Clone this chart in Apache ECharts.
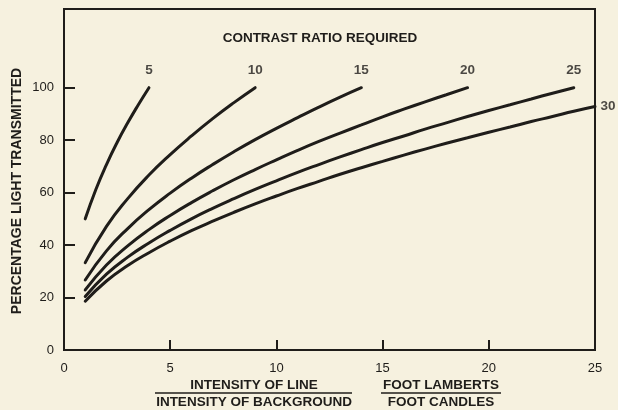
<!DOCTYPE html>
<html>
<head>
<meta charset="utf-8">
<script src="https://cdn.jsdelivr.net/npm/echarts@6/dist/echarts.min.js"></script>
<style>
  html, body { margin: 0; padding: 0; background: #f6f1df; }
  #chart { width: 618px; height: 410px; }
</style>
</head>
<body>
<div id="chart"></div>
<script>
// Contrast ratios shown as curve labels
const ratios = ['5', '10', '15', '20', '25', '30'];

// Intensity ratio (x) sampled for each curve
const x5  = [1, 1.5, 2, 2.5, 3, 3.5, 4];
const x10 = [1, 2, 3, 4, 5, 6, 7, 8, 9];
const x15 = [1, 2, 3, 4, 5, 6, 7, 8, 9, 10, 11, 12, 13, 14];
const x20 = [1, 2, 3, 4, 5, 6, 7, 8, 9, 10, 11, 12, 13, 14, 15, 16, 17, 18, 19];
const x25 = [1, 2, 3, 4, 5, 6, 7, 8, 9, 10, 11, 12, 13, 14, 15, 16, 17, 18, 19, 20, 21, 22, 23, 24];
const x30 = [1, 2, 3, 4, 5, 6, 7, 8, 9, 10, 11, 12, 13, 14, 15, 16, 17, 18, 19, 20, 21, 22, 23, 24, 25];

// Percentage light transmitted for each contrast ratio
const y5  = [50, 61.2, 70.7, 79.1, 86.6, 93.5, 100];
const y10 = [33.3, 47.1, 57.7, 66.7, 74.5, 81.6, 88.2, 94.3, 100];
const y15 = [26.7, 37.8, 46.3, 53.5, 59.8, 65.5, 70.7, 75.6, 80.2, 84.5, 88.6, 92.6, 96.4, 100];
const y20 = [22.9, 32.4, 39.7, 45.9, 51.3, 56.2, 60.7, 64.9, 68.8, 72.5, 76.1, 79.5, 82.7, 85.8, 88.9, 91.8, 94.6, 97.3, 100];
const y25 = [20.4, 28.9, 35.4, 40.8, 45.6, 50, 54, 57.7, 61.2, 64.5, 67.7, 70.7, 73.6, 76.4, 79.1, 81.6, 84.2, 86.6, 89, 91.3, 93.5, 95.7, 97.9, 100];
const y30 = [18.6, 26.3, 32.2, 37.1, 41.5, 45.5, 49.1, 52.5, 55.7, 58.7, 61.6, 64.3, 67, 69.5, 71.9, 74.3, 76.6, 78.8, 80.9, 83, 85, 87.1, 89, 91, 92.8];

// Axis ticks
const xTicks = [0, 5, 10, 15, 20, 25];
const yTicks = [0, 20, 40, 60, 80, 100];

const xs = [x5, x10, x15, x20, x25, x30];
const ys = [y5, y10, y15, y20, y25, y30];
const curves = xs.map((xv, i) => xv.map((x, j) => [x, ys[i][j]]));

const ink = '#1f1d1a';
const font = '"Liberation Sans", Arial, sans-serif';

const chart = echarts.init(document.getElementById('chart'));

const lineSeries = curves.map((d, i) => ({
  type: 'line',
  name: ratios[i],
  data: d,
  smooth: 0.5,
  symbol: 'none',
  lineStyle: { color: ink, width: 3, cap: 'round' },
  silent: true,
  z: 3
}));

// Ratio labels anchored at the end of each curve
const labelSeries = {
  type: 'scatter',
  symbolSize: 1,
  itemStyle: { color: 'rgba(0,0,0,0)' },
  silent: true,
  z: 4,
  data: curves.map((d, i) => {
    const end = d[d.length - 1];
    const last = i === curves.length - 1;
    return {
      value: end,
      label: {
        show: true,
        formatter: ratios[i],
        position: last ? 'right' : 'top',
        distance: last ? 5 : 10,
        color: ink,
        fontFamily: font,
        fontWeight: 'bold',
        fontSize: 13.5
      }
    };
  })
};

chart.setOption({
  backgroundColor: '#f6f1df',
  animation: false,
  grid: {
    left: 64, right: 23, top: 9, bottom: 60,
    show: true, borderColor: ink, borderWidth: 2, backgroundColor: 'transparent'
  },
  xAxis: {
    type: 'value', min: 0, max: 25, interval: 5,
    axisLine: { show: true, lineStyle: { color: ink, width: 2 } },
    axisTick: { show: true, inside: true, length: 10, lineStyle: { color: ink, width: 2 }, customValues: [5, 10, 15, 20] },
    axisLabel: { color: ink, fontFamily: font, fontSize: 13, margin: 12, customValues: xTicks },
    splitLine: { show: false }
  },
  yAxis: {
    type: 'value', min: 0, max: 130, interval: 20,
    axisLine: { show: true, lineStyle: { color: ink, width: 2 } },
    axisTick: { show: true, inside: true, length: 11, lineStyle: { color: ink, width: 2 }, customValues: [20, 40, 60, 80, 100] },
    axisLabel: { color: ink, fontFamily: font, fontSize: 13, margin: 10, customValues: yTicks },
    splitLine: { show: false }
  },
  series: [...lineSeries, labelSeries],
  graphic: [
    {
      type: 'text', x: 320, y: 38,
      style: { text: 'CONTRAST RATIO REQUIRED', fill: ink, font: 'bold 13.5px ' + font, align: 'center', verticalAlign: 'middle' }
    },
    {
      type: 'text', x: 17, y: 191, rotation: Math.PI / 2,
      style: { text: 'PERCENTAGE LIGHT TRANSMITTED', fill: ink, font: 'bold 14px ' + font, align: 'center', verticalAlign: 'middle' }
    },
    {
      type: 'text', x: 254, y: 385,
      style: { text: 'INTENSITY OF LINE', fill: ink, font: 'bold 13.5px ' + font, align: 'center', verticalAlign: 'middle' }
    },
    {
      type: 'line', shape: { x1: 155, y1: 393, x2: 352, y2: 393 },
      style: { stroke: ink, lineWidth: 1.5 }
    },
    {
      type: 'text', x: 254, y: 402,
      style: { text: 'INTENSITY OF BACKGROUND', fill: ink, font: 'bold 13.5px ' + font, align: 'center', verticalAlign: 'middle' }
    },
    {
      type: 'text', x: 441, y: 385,
      style: { text: 'FOOT LAMBERTS', fill: ink, font: 'bold 13.5px ' + font, align: 'center', verticalAlign: 'middle' }
    },
    {
      type: 'line', shape: { x1: 381, y1: 393, x2: 501, y2: 393 },
      style: { stroke: ink, lineWidth: 1.5 }
    },
    {
      type: 'text', x: 441, y: 402,
      style: { text: 'FOOT CANDLES', fill: ink, font: 'bold 13.5px ' + font, align: 'center', verticalAlign: 'middle' }
    }
  ]
});
</script>
</body>
</html>
